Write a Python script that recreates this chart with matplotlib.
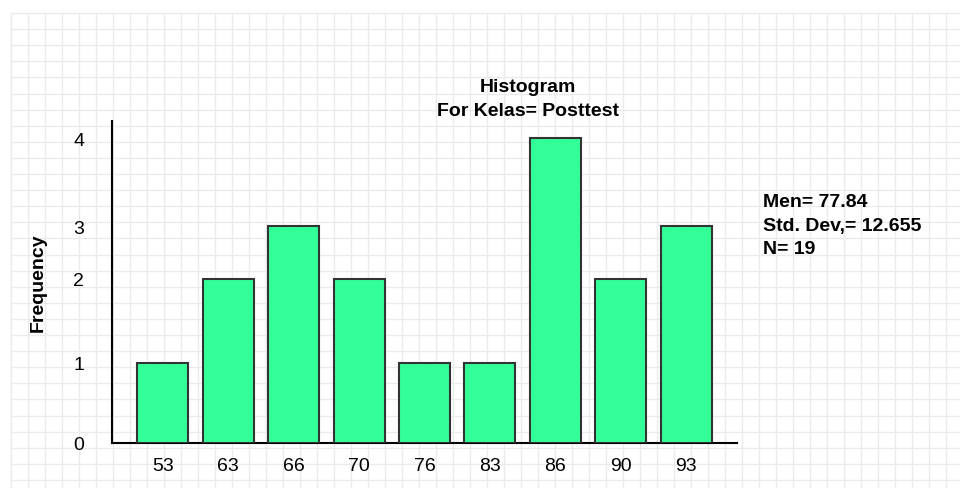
import numpy as np
import matplotlib.pyplot as plt

# data
scores = ["53", "63", "66", "70", "76", "83", "86", "90", "93"]
freq = [1, 2, 3, 2, 1, 1, 4, 2, 3]
stats = ["Men= 77.84", "Std. Dev,= 12.655", "N= 19"]
y_ticks = [0, 1, 2, 3, 4]

# the original chart's y axis is not linear, so map it through a piecewise scale
scale_vals = [0, 1, 2, 3, 4, 5]
scale_px = [0, 80, 164, 217, 305, 393]


def fwd(v):
    return np.interp(v, scale_vals, scale_px)


def inv(p):
    return np.interp(p, scale_px, scale_vals)


plt.rcParams["font.family"] = ["Liberation Sans", "DejaVu Sans"]

W, H = 960, 489
fig = plt.figure(figsize=(W / 100, H / 100), dpi=100)

# graph-paper background
bg = fig.add_axes([0, 0, 1, 1])
bg.set_xlim(0, W)
bg.set_ylim(H, 0)
bg.axis("off")
for x in np.arange(11, W, 17):
    major = (x - 44) % 68 == 0
    bg.plot([x, x], [14, H], color="#d6d6d6" if major else "#ebebeb", lw=1.2 if major else 1, zorder=0)
for y in np.arange(14, H, 16.1):
    major = abs(((y - 58) / 64.5) - round((y - 58) / 64.5)) < 0.05
    bg.plot([11, W], [y, y], color="#d6d6d6" if major else "#ebebeb", lw=1.2 if major else 1, zorder=0)

ax = fig.add_axes([112 / W, 45 / H, (737 - 112) / W, 322 / H])
ax.patch.set_alpha(0)
ax.set_yscale("function", functions=(fwd, inv))
x = np.arange(len(scores))
ax.bar(x, freq, width=0.78, color="#33ff99", edgecolor="#333333", linewidth=1.5, zorder=3)
ax.set_xlim(-0.78, 8.78)
ax.set_ylim(0, inv(322))
ax.set_xticks(x)
ax.set_xticklabels(scores, fontsize=14)
ax.set_yticks(y_ticks)
ax.set_yticklabels([str(t) for t in y_ticks], fontsize=14)
ax.tick_params(axis="both", length=0)
ax.tick_params(axis="x", pad=10)
ax.tick_params(axis="y", pad=20)
for s in ["top", "right"]:
    ax.spines[s].set_visible(False)
ax.spines["left"].set_linewidth(1.5)
ax.spines["bottom"].set_linewidth(1.5)
ax.set_ylabel("Frequency", fontsize=14, fontweight="bold", labelpad=19)

fig.text(528 / W, 1 - 88 / H, "Histogram", ha="center", va="center", fontsize=14, fontweight="bold")
fig.text(528 / W, 1 - 111 / H, "For Kelas= Posttest", ha="center", va="center", fontsize=14, fontweight="bold")
for i, s in enumerate(stats):
    fig.text(763 / W, 1 - (203 + 23.5 * i) / H, s, ha="left", va="center", fontsize=14, fontweight="bold")

fig.savefig("out.png", dpi=100)
